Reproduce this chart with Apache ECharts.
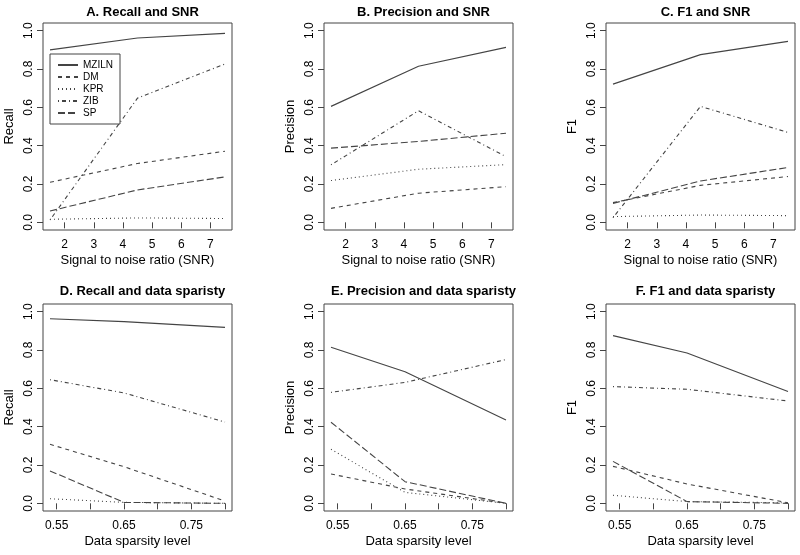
<!DOCTYPE html>
<html>
<head>
<meta charset="utf-8">
<script src="https://cdn.jsdelivr.net/npm/echarts@6/dist/echarts.min.js"></script>
<style>html,body{margin:0;padding:0;background:#fff;}#c{width:800px;height:555px;}</style>
</head>
<body>
<div id="c"></div>
<script>
// ---- data ----
const methods = ['MZILN', 'DM', 'KPR', 'ZIB', 'SP'];
const snrX = [1.5, 4.5, 7.5];
const sparsityX = [0.54, 0.65, 0.80];
const snrTicks = [2, 3, 4, 5, 6, 7];
const sparsityTicks = [0.55, 0.60, 0.65, 0.70, 0.75, 0.80];
const sparsityLabels = [0.55, 0.65, 0.75];
const yTicks = [0, 0.2, 0.4, 0.6, 0.8, 1.0];

// Panel A: Recall vs SNR
const recallSNR_MZILN = [0.900, 0.962, 0.986];
const recallSNR_DM    = [0.209, 0.307, 0.371];
const recallSNR_KPR   = [0.016, 0.023, 0.020];
const recallSNR_ZIB   = [0.012, 0.648, 0.826];
const recallSNR_SP    = [0.059, 0.169, 0.237];
// Panel B: Precision vs SNR
const precSNR_MZILN = [0.605, 0.814, 0.913];
const precSNR_DM    = [0.073, 0.152, 0.186];
const precSNR_KPR   = [0.218, 0.277, 0.301];
const precSNR_ZIB   = [0.300, 0.582, 0.343];
const precSNR_SP    = [0.387, 0.422, 0.465];
// Panel C: F1 vs SNR
const f1SNR_MZILN = [0.721, 0.875, 0.944];
const f1SNR_DM    = [0.103, 0.193, 0.239];
const f1SNR_KPR   = [0.030, 0.038, 0.035];
const f1SNR_ZIB   = [0.024, 0.605, 0.469];
const f1SNR_SP    = [0.099, 0.216, 0.286];
// Panel D: Recall vs sparsity
const recallSp_MZILN = [0.963, 0.948, 0.918];
const recallSp_DM    = [0.308, 0.191, 0.012];
const recallSp_KPR   = [0.024, 0.005, 0.000];
const recallSp_ZIB   = [0.645, 0.576, 0.424];
const recallSp_SP    = [0.169, 0.005, 0.000];
// Panel E: Precision vs sparsity
const precSp_MZILN = [0.814, 0.687, 0.435];
const precSp_DM    = [0.153, 0.075, 0.000];
const precSp_KPR   = [0.282, 0.057, 0.000];
const precSp_ZIB   = [0.579, 0.631, 0.750];
const precSp_SP    = [0.423, 0.113, 0.000];
// Panel F: F1 vs sparsity
const f1Sp_MZILN = [0.875, 0.784, 0.583];
const f1Sp_DM    = [0.193, 0.101, 0.003];
const f1Sp_KPR   = [0.042, 0.009, 0.003];
const f1Sp_ZIB   = [0.609, 0.595, 0.534];
const f1Sp_SP    = [0.219, 0.009, 0.000];

const panelTitles = ['A. Recall and SNR', 'B. Precision and SNR', 'C. F1 and SNR',
  'D. Recall and data sparisty', 'E. Precision and data sparisty', 'F. F1 and data sparisty'];
const yNames = ['Recall', 'Precision', 'F1', 'Recall', 'Precision', 'F1'];
const xNames = ['Signal to noise ratio (SNR)', 'Signal to noise ratio (SNR)', 'Signal to noise ratio (SNR)',
  'Data sparsity level', 'Data sparsity level', 'Data sparsity level'];
const panelData = [
  [recallSNR_MZILN, recallSNR_DM, recallSNR_KPR, recallSNR_ZIB, recallSNR_SP],
  [precSNR_MZILN, precSNR_DM, precSNR_KPR, precSNR_ZIB, precSNR_SP],
  [f1SNR_MZILN, f1SNR_DM, f1SNR_KPR, f1SNR_ZIB, f1SNR_SP],
  [recallSp_MZILN, recallSp_DM, recallSp_KPR, recallSp_ZIB, recallSp_SP],
  [precSp_MZILN, precSp_DM, precSp_KPR, precSp_ZIB, precSp_SP],
  [f1Sp_MZILN, f1Sp_DM, f1Sp_KPR, f1Sp_ZIB, f1Sp_SP]
];

// ---- styling ----
const FONT = 'Liberation Sans, Arial, sans-serif';
const LINE = '#444';
const dashes = ['solid', [4, 4], [1, 3], [1, 3, 4, 3], [7, 3]];
const lefts = [43, 324, 606];
const boxW = 189;
const tops = [23, 304];
const boxH = 207;

const grids = [], xAxes = [], yAxes = [], titles = [], series = [];
for (let p = 0; p < 6; p++) {
  const col = p % 3, row = Math.floor(p / 3);
  grids.push({
    left: lefts[col], top: tops[row], width: boxW, height: boxH,
    show: true, borderColor: '#444', borderWidth: 1, backgroundColor: 'transparent',
    containLabel: false
  });
  const isSNR = row === 0;
  const xs = isSNR ? snrX : sparsityX;
  const span = xs[xs.length - 1] - xs[0];
  xAxes.push({
    type: 'value', gridIndex: p,
    min: xs[0] - span * 0.04, max: xs[xs.length - 1] + span * 0.04,
    splitLine: { show: false },
    axisLine: { show: false },
    axisTick: { show: true, length: 6, lineStyle: { color: '#444' },
      customValues: isSNR ? snrTicks : sparsityTicks },
    axisLabel: { show: true, margin: 9, color: '#000', fontFamily: FONT, fontSize: 12,
      customValues: isSNR ? snrTicks : sparsityLabels,
      formatter: v => isSNR ? String(v) : v.toFixed(2) },
    name: xNames[p], nameLocation: 'middle', nameGap: 24,
    nameTextStyle: { color: '#000', fontFamily: FONT, fontSize: 13 }
  });
  yAxes.push({
    type: 'value', gridIndex: p, min: -0.04, max: 1.04,
    splitLine: { show: false },
    axisLine: { show: false },
    axisTick: { show: true, length: 6, lineStyle: { color: '#444' }, customValues: yTicks },
    axisLabel: { show: true, rotate: 90, margin: 8, color: '#000', fontFamily: FONT, fontSize: 12,
      customValues: yTicks, formatter: v => v.toFixed(1) },
    name: yNames[p], nameLocation: 'middle', nameGap: 27, nameRotate: 90,
    nameTextStyle: { color: '#000', fontFamily: FONT, fontSize: 13 }
  });
  titles.push({
    text: panelTitles[p], left: lefts[col] + boxW / 2, textAlign: 'center',
    top: row === 0 ? 1 : 280,
    textStyle: { color: '#000', fontFamily: FONT, fontSize: 13, fontWeight: 'bold' }
  });
  for (let m = 0; m < methods.length; m++) {
    series.push({
      type: 'line', name: methods[m], xAxisIndex: p, yAxisIndex: p,
      data: xs.map((x, i) => [x, panelData[p][m][i]]),
      showSymbol: false, symbol: 'none', silent: true, animation: false,
      lineStyle: { color: LINE, width: 1.1, type: dashes[m] },
      itemStyle: { color: LINE }
    });
  }
}

const chart = echarts.init(document.getElementById('c'), null, { renderer: 'canvas' });
chart.setOption({
  backgroundColor: '#fff',
  animation: false,
  title: titles,
  grid: grids,
  xAxis: xAxes,
  yAxis: yAxes,
  legend: {
    data: methods, orient: 'vertical', left: 50, top: 54,
    borderColor: '#444', borderWidth: 1, padding: [6, 7, 6, 7],
    itemWidth: 20, itemHeight: 10, itemGap: 2,
    itemStyle: { opacity: 0 },
    textStyle: { color: '#000', fontFamily: FONT, fontSize: 10 },
    selectedMode: false, backgroundColor: '#fff'
  },
  series: series
});
</script>
</body>
</html>
